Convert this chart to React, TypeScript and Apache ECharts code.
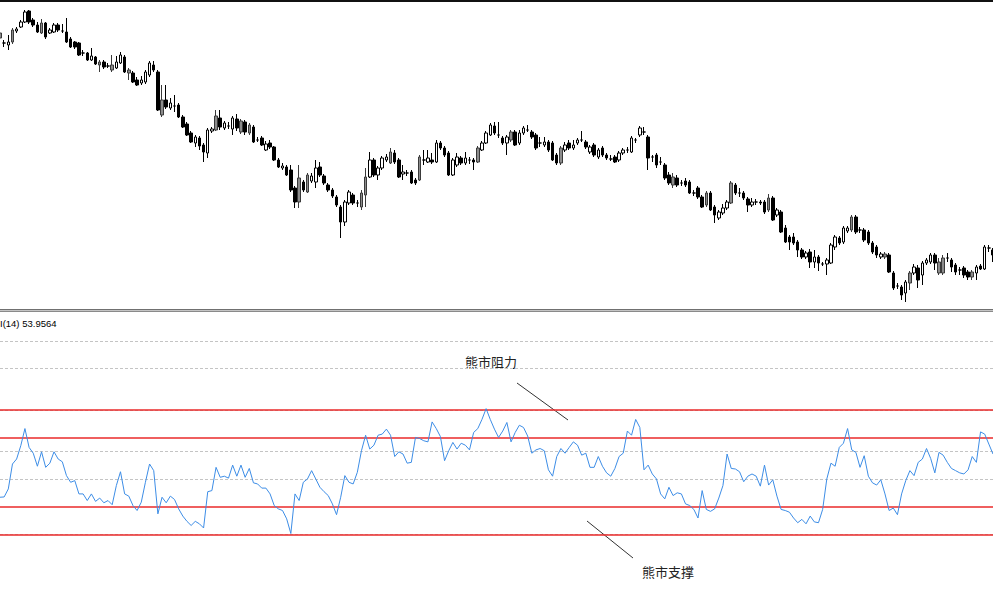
import React, { useEffect, useRef } from "react";
import * as echarts from "echarts";

// Price candles (one per bar)
const openPrices = [
  1.3962, 1.3957, 1.3955, 1.3958, 1.3969, 1.3973, 1.3978, 1.3989, 1.3980, 1.3975,
  1.3967, 1.3977, 1.3967, 1.3968, 1.3975, 1.3969, 1.3968, 1.3961, 1.3958, 1.3957,
  1.3947, 1.3947, 1.3940, 1.3943, 1.3935, 1.3938, 1.3934, 1.3930, 1.3932, 1.3937,
  1.3943, 1.3927, 1.3927, 1.3920, 1.3917, 1.3918, 1.3925, 1.3935, 1.3928, 1.3885,
  1.3900, 1.3892, 1.3894, 1.3895, 1.3883, 1.3876, 1.3867, 1.3857, 1.3862, 1.3855,
  1.3847, 1.3869, 1.3870, 1.3882, 1.3872, 1.3874, 1.3871, 1.3881, 1.3868, 1.3878,
  1.3867, 1.3873, 1.3860, 1.3862, 1.3850, 1.3857, 1.3853, 1.3840, 1.3832, 1.3833,
  1.3830, 1.3812, 1.3798, 1.3818, 1.3808, 1.3819, 1.3818, 1.3833, 1.3824, 1.3815,
  1.3810, 1.3803, 1.3793, 1.3778, 1.3797, 1.3805, 1.3797, 1.3793, 1.3805, 1.3823,
  1.3840, 1.3825, 1.3832, 1.3840, 1.3837, 1.3847, 1.3840, 1.3826, 1.3827, 1.3828,
  1.3820, 1.3820, 1.3840, 1.3838, 1.3840, 1.3838, 1.3857, 1.3852, 1.3847, 1.3825,
  1.3835, 1.3842, 1.3837, 1.3840, 1.3840, 1.3838, 1.3850, 1.3857, 1.3865, 1.3874,
  1.3865, 1.3862, 1.3857, 1.3860, 1.3868, 1.3857, 1.3867, 1.3870, 1.3868, 1.3865,
  1.3857, 1.3855, 1.3858, 1.3857, 1.3845, 1.3837, 1.3850, 1.3857, 1.3852, 1.3857,
  1.3860, 1.3858, 1.3848, 1.3855, 1.3843, 1.3852, 1.3845, 1.3841, 1.3843, 1.3840,
  1.3847, 1.3850, 1.3848, 1.3860, 1.3865, 1.3868, 1.3863, 1.3843, 1.3845, 1.3838,
  1.3835, 1.3825, 1.3815, 1.3822, 1.3817, 1.3819, 1.3818, 1.3807, 1.3812, 1.3803,
  1.3795, 1.3807, 1.3793, 1.3782, 1.3787, 1.3792, 1.3797, 1.3815, 1.3807, 1.3807,
  1.3801, 1.3795, 1.3798, 1.3798, 1.3798, 1.3790, 1.3802, 1.3785, 1.3788, 1.3772,
  1.3763, 1.3763, 1.3758, 1.3750, 1.3743, 1.3748, 1.3738, 1.3743, 1.3736, 1.3736,
  1.3737, 1.3753, 1.3762, 1.3758, 1.3769, 1.3770, 1.3783, 1.3770, 1.3770, 1.3768,
  1.3757, 1.3753, 1.3743, 1.3743, 1.3745, 1.3727, 1.3714, 1.3713, 1.3707, 1.3717,
  1.3727, 1.3732, 1.3725, 1.3737, 1.3738, 1.3745, 1.3727, 1.3727, 1.3742, 1.3740,
  1.3735, 1.3730, 1.3732, 1.3728, 1.3723, 1.3727, 1.3734, 1.3731, 1.3752, 1.3750,
];
const closePrices = [
  1.3967, 1.3957, 1.3958, 1.3970, 1.3971, 1.3978, 1.3988, 1.3978, 1.3975, 1.3968,
  1.3977, 1.3963, 1.3970, 1.3975, 1.3970, 1.3969, 1.3958, 1.3953, 1.3953, 1.3945,
  1.3947, 1.3940, 1.3944, 1.3936, 1.3938, 1.3933, 1.3934, 1.3935, 1.3938, 1.3945,
  1.3928, 1.3930, 1.3918, 1.3915, 1.3920, 1.3928, 1.3937, 1.3930, 1.3890, 1.3900,
  1.3893, 1.3897, 1.3894, 1.3883, 1.3873, 1.3865, 1.3858, 1.3863, 1.3854, 1.3848,
  1.3870, 1.3871, 1.3884, 1.3873, 1.3877, 1.3874, 1.3882, 1.3872, 1.3879, 1.3868,
  1.3875, 1.3858, 1.3860, 1.3855, 1.3856, 1.3853, 1.3840, 1.3833, 1.3834, 1.3825,
  1.3810, 1.3798, 1.3822, 1.3810, 1.3825, 1.3824, 1.3832, 1.3825, 1.3817, 1.3810,
  1.3804, 1.3795, 1.3778, 1.3798, 1.3808, 1.3797, 1.3797, 1.3807, 1.3823, 1.3840,
  1.3825, 1.3832, 1.3842, 1.3843, 1.3848, 1.3838, 1.3823, 1.3828, 1.3827, 1.3817,
  1.3817, 1.3843, 1.3840, 1.3842, 1.3838, 1.3857, 1.3852, 1.3845, 1.3825, 1.3840,
  1.3843, 1.3837, 1.3842, 1.3840, 1.3838, 1.3852, 1.3857, 1.3867, 1.3875, 1.3867,
  1.3865, 1.3857, 1.3863, 1.3868, 1.3855, 1.3867, 1.3872, 1.3870, 1.3863, 1.3852,
  1.3857, 1.3858, 1.3850, 1.3840, 1.3837, 1.3852, 1.3855, 1.3852, 1.3855, 1.3860,
  1.3860, 1.3853, 1.3853, 1.3845, 1.3850, 1.3845, 1.3842, 1.3841, 1.3838, 1.3847,
  1.3850, 1.3850, 1.3862, 1.3860, 1.3872, 1.3868, 1.3842, 1.3843, 1.3835, 1.3838,
  1.3822, 1.3817, 1.3823, 1.3815, 1.3817, 1.3815, 1.3807, 1.3807, 1.3803, 1.3793,
  1.3807, 1.3790, 1.3785, 1.3788, 1.3792, 1.3798, 1.3817, 1.3807, 1.3807, 1.3802,
  1.3795, 1.3798, 1.3798, 1.3797, 1.3788, 1.3802, 1.3780, 1.3790, 1.3768, 1.3758,
  1.3758, 1.3757, 1.3750, 1.3743, 1.3747, 1.3738, 1.3743, 1.3737, 1.3736, 1.3740,
  1.3755, 1.3763, 1.3757, 1.3772, 1.3772, 1.3783, 1.3768, 1.3770, 1.3760, 1.3757,
  1.3748, 1.3745, 1.3746, 1.3746, 1.3728, 1.3712, 1.3714, 1.3705, 1.3718, 1.3727,
  1.3733, 1.3720, 1.3737, 1.3740, 1.3745, 1.3737, 1.3738, 1.3742, 1.3742, 1.3733,
  1.3728, 1.3730, 1.3725, 1.3723, 1.3728, 1.3733, 1.3731, 1.3753, 1.3752, 1.3745,
];
const lowPrices = [
  1.3960, 1.3953, 1.3950, 1.3956, 1.3967, 1.3972, 1.3977, 1.3976, 1.3973, 1.3967,
  1.3966, 1.3961, 1.3966, 1.3967, 1.3968, 1.3967, 1.3957, 1.3952, 1.3951, 1.3944,
  1.3944, 1.3939, 1.3939, 1.3935, 1.3928, 1.3931, 1.3932, 1.3928, 1.3931, 1.3936,
  1.3927, 1.3920, 1.3917, 1.3914, 1.3915, 1.3916, 1.3923, 1.3928, 1.3889, 1.3883,
  1.3891, 1.3890, 1.3888, 1.3882, 1.3872, 1.3864, 1.3857, 1.3853, 1.3850, 1.3838,
  1.3842, 1.3867, 1.3869, 1.3870, 1.3870, 1.3871, 1.3865, 1.3869, 1.3866, 1.3865,
  1.3865, 1.3857, 1.3858, 1.3854, 1.3849, 1.3851, 1.3839, 1.3832, 1.3830, 1.3824,
  1.3808, 1.3792, 1.3792, 1.3808, 1.3807, 1.3817, 1.3812, 1.3823, 1.3815, 1.3808,
  1.3802, 1.3793, 1.3762, 1.3774, 1.3795, 1.3795, 1.3793, 1.3790, 1.3793, 1.3822,
  1.3823, 1.3820, 1.3830, 1.3838, 1.3836, 1.3836, 1.3822, 1.3820, 1.3824, 1.3816,
  1.3815, 1.3819, 1.3835, 1.3837, 1.3836, 1.3837, 1.3850, 1.3843, 1.3824, 1.3824,
  1.3833, 1.3835, 1.3835, 1.3836, 1.3830, 1.3837, 1.3849, 1.3856, 1.3864, 1.3865,
  1.3862, 1.3855, 1.3845, 1.3858, 1.3854, 1.3855, 1.3865, 1.3868, 1.3861, 1.3850,
  1.3853, 1.3853, 1.3848, 1.3839, 1.3835, 1.3835, 1.3848, 1.3850, 1.3850, 1.3855,
  1.3858, 1.3851, 1.3846, 1.3843, 1.3841, 1.3843, 1.3840, 1.3839, 1.3837, 1.3838,
  1.3845, 1.3847, 1.3847, 1.3857, 1.3863, 1.3865, 1.3830, 1.3838, 1.3832, 1.3835,
  1.3820, 1.3815, 1.3812, 1.3813, 1.3814, 1.3813, 1.3806, 1.3804, 1.3801, 1.3792,
  1.3793, 1.3789, 1.3777, 1.3780, 1.3785, 1.3790, 1.3796, 1.3805, 1.3803, 1.3800,
  1.3788, 1.3793, 1.3795, 1.3795, 1.3786, 1.3788, 1.3779, 1.3783, 1.3767, 1.3757,
  1.3750, 1.3755, 1.3743, 1.3741, 1.3741, 1.3732, 1.3732, 1.3729, 1.3734, 1.3725,
  1.3736, 1.3750, 1.3755, 1.3756, 1.3767, 1.3768, 1.3766, 1.3767, 1.3758, 1.3755,
  1.3746, 1.3742, 1.3741, 1.3741, 1.3727, 1.3710, 1.3711, 1.3700, 1.3698, 1.3710,
  1.3725, 1.3712, 1.3715, 1.3735, 1.3736, 1.3730, 1.3725, 1.3725, 1.3738, 1.3728,
  1.3725, 1.3725, 1.3722, 1.3720, 1.3720, 1.3720, 1.3730, 1.3730, 1.3748, 1.3738,
];
const highPrices = [
  1.3969, 1.3960, 1.3965, 1.3972, 1.3973, 1.3980, 1.3990, 1.3990, 1.3982, 1.3978,
  1.3981, 1.3978, 1.3972, 1.3977, 1.3977, 1.3976, 1.3982, 1.3963, 1.3959, 1.3958,
  1.3950, 1.3948, 1.3952, 1.3944, 1.3940, 1.3940, 1.3937, 1.3945, 1.3944, 1.3948,
  1.3945, 1.3932, 1.3929, 1.3923, 1.3924, 1.3930, 1.3939, 1.3939, 1.3930, 1.3915,
  1.3915, 1.3902, 1.3905, 1.3897, 1.3885, 1.3878, 1.3869, 1.3865, 1.3864, 1.3857,
  1.3872, 1.3873, 1.3890, 1.3890, 1.3879, 1.3878, 1.3884, 1.3886, 1.3881, 1.3880,
  1.3877, 1.3875, 1.3863, 1.3864, 1.3859, 1.3860, 1.3854, 1.3842, 1.3837, 1.3835,
  1.3835, 1.3814, 1.3835, 1.3820, 1.3827, 1.3827, 1.3840, 1.3838, 1.3826, 1.3817,
  1.3812, 1.3805, 1.3795, 1.3800, 1.3810, 1.3807, 1.3800, 1.3810, 1.3832, 1.3848,
  1.3842, 1.3834, 1.3844, 1.3846, 1.3852, 1.3850, 1.3842, 1.3835, 1.3830, 1.3830,
  1.3822, 1.3845, 1.3850, 1.3850, 1.3847, 1.3860, 1.3859, 1.3854, 1.3849, 1.3842,
  1.3847, 1.3844, 1.3848, 1.3843, 1.3842, 1.3854, 1.3859, 1.3869, 1.3877, 1.3878,
  1.3878, 1.3864, 1.3865, 1.3870, 1.3870, 1.3870, 1.3874, 1.3875, 1.3870, 1.3867,
  1.3863, 1.3863, 1.3860, 1.3859, 1.3847, 1.3854, 1.3858, 1.3860, 1.3860, 1.3862,
  1.3869, 1.3860, 1.3855, 1.3857, 1.3852, 1.3854, 1.3847, 1.3845, 1.3845, 1.3849,
  1.3852, 1.3853, 1.3864, 1.3862, 1.3874, 1.3873, 1.3865, 1.3845, 1.3847, 1.3843,
  1.3837, 1.3828, 1.3827, 1.3825, 1.3820, 1.3822, 1.3820, 1.3810, 1.3814, 1.3805,
  1.3809, 1.3809, 1.3795, 1.3790, 1.3796, 1.3800, 1.3819, 1.3817, 1.3812, 1.3809,
  1.3803, 1.3802, 1.3801, 1.3800, 1.3800, 1.3806, 1.3804, 1.3792, 1.3790, 1.3775,
  1.3765, 1.3767, 1.3760, 1.3752, 1.3749, 1.3751, 1.3750, 1.3745, 1.3738, 1.3742,
  1.3757, 1.3765, 1.3764, 1.3774, 1.3774, 1.3785, 1.3785, 1.3773, 1.3772, 1.3770,
  1.3759, 1.3755, 1.3748, 1.3748, 1.3747, 1.3729, 1.3717, 1.3715, 1.3720, 1.3729,
  1.3736, 1.3735, 1.3739, 1.3742, 1.3747, 1.3747, 1.3742, 1.3745, 1.3747, 1.3742,
  1.3737, 1.3733, 1.3734, 1.3730, 1.3730, 1.3735, 1.3736, 1.3755, 1.3755, 1.3752,
];
// bars drawn with a grey body in the reference
const greyBars = [0, 3, 10, 24, 27, 31, 39, 52, 58, 60, 72, 74, 87, 88, 94, 101, 115, 123, 135, 162, 170, 176, 185, 205, 213, 219, 226, 227, 234];

// RSI(14) values, one per bar
const rsiValues = [
  33.5, 33.6, 36.5, 45.5, 47.3, 52.1, 58.3, 51.5, 49.4, 44.7,
  49.9, 44.3, 45.8, 49.9, 47.3, 46.3, 41.3, 38.9, 39.5, 34.7,
  34.7, 32.3, 34.7, 32.0, 33.2, 31.5, 32.3, 30.8, 37.7, 42.7,
  34.7, 33.9, 30.5, 28.7, 31.7, 38.9, 45.5, 43.1, 27.5, 33.5,
  31.5, 33.9, 32.7, 29.3, 26.7, 24.8, 23.3, 24.8, 23.9, 22.4,
  35.5, 35.9, 44.3, 40.7, 41.1, 40.4, 45.1, 41.1, 45.1, 40.7,
  43.9, 38.7, 38.3, 36.8, 36.8, 34.7, 30.5, 29.3, 28.7, 25.7,
  20.4, 34.7, 32.3, 38.9, 40.1, 43.1, 40.1, 37.1, 35.5, 34.1,
  31.1, 27.2, 33.5, 41.3, 38.9, 38.3, 42.5, 50.3, 55.9, 50.9,
  52.3, 55.9, 56.3, 58.1, 55.9, 48.2, 49.9, 49.1, 45.8, 46.1,
  55.1, 54.7, 53.9, 53.5, 60.7, 58.3, 55.4, 46.7, 50.3, 53.3,
  50.9, 53.0, 52.3, 50.6, 56.9, 58.3, 61.6, 65.5, 61.6, 58.1,
  55.1, 57.4, 60.5, 53.5, 56.9, 59.5, 58.7, 55.6, 49.4, 50.6,
  51.1, 50.3, 43.4, 41.1, 48.2, 51.1, 49.4, 51.5, 53.5, 52.3,
  48.7, 49.4, 44.3, 44.3, 48.2, 44.7, 42.3, 41.1, 43.9, 48.2,
  49.4, 57.4, 55.9, 61.6, 58.7, 43.4, 45.1, 41.9, 40.1, 34.7,
  32.9, 37.1, 34.1, 35.1, 34.7, 31.1, 30.5, 29.1, 26.0, 35.9,
  29.1, 28.4, 29.3, 33.2, 37.7, 49.1, 43.9, 43.7, 42.7, 39.1,
  41.1, 41.9, 41.1, 37.5, 45.1, 37.9, 39.8, 33.9, 29.1, 28.7,
  28.1, 26.0, 24.3, 25.5, 23.9, 26.7, 24.6, 24.3, 29.1, 40.1,
  45.8, 44.7, 51.5, 53.0, 58.3, 50.6, 49.7, 44.3, 48.5, 41.1,
  38.7, 37.9, 39.8, 34.7, 28.7, 29.6, 27.2, 34.7, 39.5, 43.1,
  41.3, 46.1, 47.3, 51.1, 47.5, 42.3, 49.7, 48.7, 46.1, 43.9,
  43.1, 42.3, 41.9, 43.4, 48.2, 46.1, 57.1, 56.3, 52.7, 49.1,
];

const rsiTitle = "I(14) 53.9564";
const dashedLevels = [90, 80, 65, 50, 40, 20];
const redLevels = [65, 55, 30, 20];
const resistanceText = "熊市阻力";
const supportText = "熊市支撑";

export default function App() {
  const ref = useRef<HTMLDivElement>(null);

  useEffect(() => {
    if (!ref.current) return;
    const chart = echarts.init(ref.current, null, { renderer: "svg" });
    const categories = openPrices.map((_, i) => String(i));
    const grey = new Set(greyBars);
    const candleData = openPrices.map((o, i) => {
      const v = [o, closePrices[i], lowPrices[i], highPrices[i]];
      if (grey.has(i)) {
        return {
          value: v,
          itemStyle: { color: "#8c8c8c", color0: "#8c8c8c", borderColor: "#3a3a3a", borderColor0: "#3a3a3a" },
        };
      }
      return v;
    });

    const cjkFont = "'Noto Sans CJK SC', 'Noto Sans', sans-serif";

    chart.setOption({
      animation: false,
      backgroundColor: "#ffffff",
      grid: [
        { left: 0, top: 0, width: 993, height: 308 },
        { left: 0, top: 313.1, width: 993, height: 278.6 },
      ],
      xAxis: [
        { type: "category", gridIndex: 0, data: categories, boundaryGap: false, show: false },
        { type: "category", gridIndex: 1, data: categories, boundaryGap: false, show: false },
      ],
      yAxis: [
        { type: "value", gridIndex: 0, min: 1.3692, max: 1.4, show: false },
        { type: "value", gridIndex: 1, min: 0, max: 100, show: false },
      ],
      series: [
        {
          type: "candlestick",
          xAxisIndex: 0,
          yAxisIndex: 0,
          data: candleData,
          barWidth: 3,
          silent: true,
          itemStyle: {
            color: "#ffffff",
            color0: "#000000",
            borderColor: "#000000",
            borderColor0: "#000000",
            borderWidth: 1,
          },
        },
        {
          name: "levels-dashed",
          type: "line",
          xAxisIndex: 1,
          yAxisIndex: 1,
          data: [],
          silent: true,
          z: 1,
          markLine: {
            silent: true,
            symbol: "none",
            label: { show: false },
            emphasis: { disabled: true },
            lineStyle: { color: "#c4c4c4", type: [3, 2], width: 1 },
            data: dashedLevels.map((lv) => ({ yAxis: lv })),
          },
        },
        {
          name: "levels-red",
          type: "line",
          xAxisIndex: 1,
          yAxisIndex: 1,
          data: [],
          silent: true,
          z: 2,
          markLine: {
            silent: true,
            symbol: "none",
            label: { show: false },
            emphasis: { disabled: true },
            lineStyle: { color: "#ea2a2a", type: "solid", width: 1.5 },
            data: redLevels.map((lv) => ({ yAxis: lv })),
          },
        },
        {
          type: "line",
          xAxisIndex: 1,
          yAxisIndex: 1,
          data: rsiValues,
          symbol: "none",
          silent: true,
          z: 10,
          lineStyle: { color: "#3d8de6", width: 1 },
        },
      ],
      graphic: [
        { type: "rect", shape: { x: 0, y: 0, width: 993, height: 2 }, style: { fill: "#111" } },
        { type: "rect", shape: { x: 0, y: 309, width: 993, height: 3 }, style: { fill: "#c4c4c4" } },
        { type: "line", shape: { x1: 0, y1: 309.5, x2: 993, y2: 309.5 }, style: { stroke: "#707070", lineWidth: 1 } },
        { type: "line", shape: { x1: 0, y1: 311.5, x2: 993, y2: 311.5 }, style: { stroke: "#8a8a8a", lineWidth: 1 } },
        {
          type: "text",
          x: 0,
          y: 323,
          style: {
            text: rsiTitle,
            fill: "#000",
            font: "9.5px 'Liberation Sans', Arial, sans-serif",
            verticalAlign: "middle",
            align: "left",
          },
        },
        {
          type: "text",
          x: 465,
          y: 361,
          style: {
            text: resistanceText,
            fill: "#222",
            font: `13px ${cjkFont}`,
            verticalAlign: "middle",
            align: "left",
          },
        },
        {
          type: "text",
          x: 642,
          y: 571,
          style: {
            text: supportText,
            fill: "#222",
            font: `13px ${cjkFont}`,
            verticalAlign: "middle",
            align: "left",
          },
        },
        { type: "line", shape: { x1: 517, y1: 383, x2: 568, y2: 420 }, style: { stroke: "#333", lineWidth: 1 } },
        { type: "line", shape: { x1: 587, y1: 521, x2: 633, y2: 558 }, style: { stroke: "#333", lineWidth: 1 } },
      ],
    });

    return () => chart.dispose();
  }, []);

  return (
    <div
      ref={ref}
      style={{ position: "fixed", left: 0, top: 0, width: 993, height: 590, background: "#fff" }}
    />
  );
}
